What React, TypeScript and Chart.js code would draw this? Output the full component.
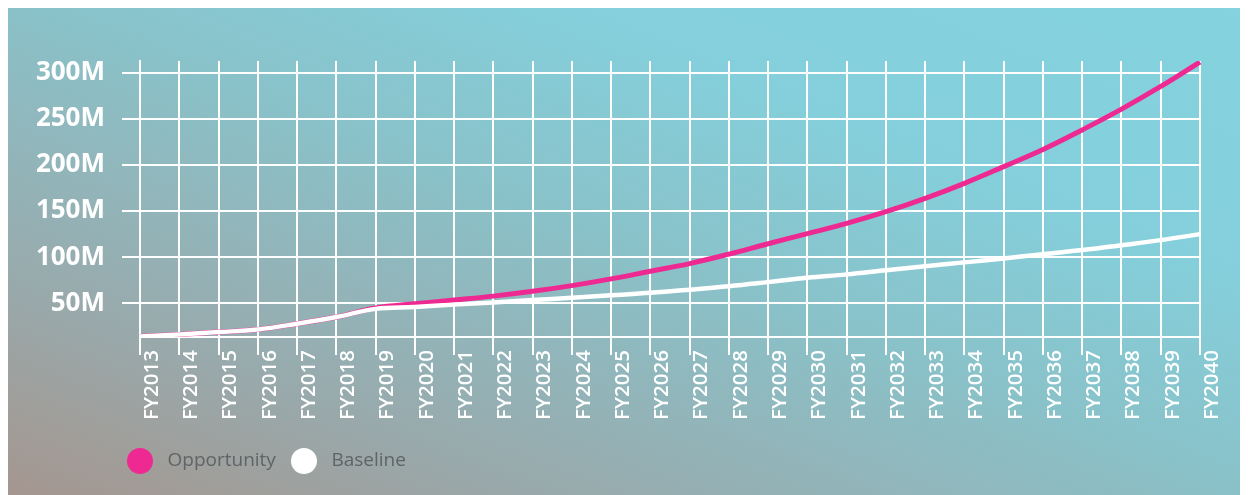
import React, { useEffect, useRef } from "react";
import { Chart, registerables } from "chart.js";

Chart.register(...registerables);

const YEARS: string[] = [
  "FY2013", "FY2014", "FY2015", "FY2016", "FY2017", "FY2018", "FY2019",
  "FY2020", "FY2021", "FY2022", "FY2023", "FY2024", "FY2025", "FY2026",
  "FY2027", "FY2028", "FY2029", "FY2030", "FY2031", "FY2032", "FY2033",
  "FY2034", "FY2035", "FY2036", "FY2037", "FY2038", "FY2039", "FY2040",
];

// values in millions
const OPPORTUNITY: number[] = [
  14.1, 16.3, 18.8, 21.7, 27.9, 35.1, 45.0, 49.5, 53.6, 57.8, 63.0, 69.2,
  76.5, 84.8, 93.1, 103.3, 114.6, 125.5, 136.6, 149.3, 163.8, 180.1, 198.2,
  216.8, 238.0, 260.5, 285.1, 311.6,
];

const BASELINE: number[] = [
  14.1, 16.3, 18.8, 21.7, 27.9, 35.1, 44.0, 46.0, 48.6, 50.8, 53.6, 56.0,
  58.7, 61.4, 64.8, 68.5, 73.0, 77.7, 81.4, 85.9, 90.2, 94.4, 98.6, 103.3,
  107.8, 113.0, 118.5, 125.0,
];

const Y_TICKS: number[] = [50, 100, 150, 200, 250, 300];
const Y_MIN = 13.5;
const Y_MAX = 312.7;

const PINK = "#ee2a92";
const WHITE = "#ffffff";

function makeDot(color: string, diameter: number, width: number): HTMLCanvasElement {
  const c = document.createElement("canvas");
  c.width = width;
  c.height = diameter;
  const ctx = c.getContext("2d")!;
  ctx.fillStyle = color;
  ctx.beginPath();
  ctx.arc(width / 2, diameter / 2, diameter / 2, 0, Math.PI * 2);
  ctx.fill();
  return c;
}

const legendShift = {
  id: "legendShift",
  afterLayout(chart: any) {
    if (chart.legend) {
      chart.legend.left = 104;
    }
  },
};

export default function App() {
  const ref = useRef<HTMLCanvasElement | null>(null);

  useEffect(() => {
    if (!ref.current) return;
    Chart.defaults.font.family = "'Open Sans', sans-serif";
    const dots = [makeDot(PINK, 26, 26), makeDot(WHITE, 26, 26)];
    const chart = new Chart(ref.current, {
      type: "line",
      data: {
        labels: YEARS,
        datasets: [
          {
            label: "Opportunity",
            data: OPPORTUNITY,
            borderColor: PINK,
            backgroundColor: PINK,
            borderWidth: 5,
            pointRadius: 0,
            tension: 0.4,
            order: 1,
          },
          {
            label: "Baseline",
            data: BASELINE,
            borderColor: WHITE,
            backgroundColor: WHITE,
            borderWidth: 4.5,
            pointRadius: 0,
            tension: 0.4,
            order: 0,
          },
        ],
      },
      plugins: [legendShift],
      options: {
        animation: false,
        responsive: false,
        maintainAspectRatio: false,
        layout: { padding: { left: 0, right: 48, top: 53, bottom: 14.5 } },
        plugins: {
          tooltip: { enabled: false },
          legend: {
            position: "bottom",
            align: "start",
            labels: {
              usePointStyle: true,
              pointStyleWidth: 36,
              padding: 10,
              color: "#5f6467",
              font: { size: 19, family: "'Open Sans', sans-serif" },
              generateLabels: (ch: any) =>
                ch.data.datasets.map((ds: any, i: number) => ({
                  text: ds.label,
                  datasetIndex: i,
                  fillStyle: ds.borderColor,
                  strokeStyle: ds.borderColor,
                  lineWidth: 0,
                  pointStyle: dots[i],
                  hidden: false,
                  fontColor: "#5f6467",
                })),
            },
          },
        },
        scales: {
          x: {
            type: "category",
            offset: false,
            afterFit: (s: any) => {
              s.height = 104.5;
            },
            grid: {
              color: WHITE,
              lineWidth: 2,
              drawTicks: true,
              tickLength: 18,
            },
            border: { display: true, color: WHITE, width: 2 },
            ticks: {
              autoSkip: false,
              maxRotation: 90,
              minRotation: 90,
              labelOffset: 12,
              padding: -5,
              color: WHITE,
              font: { size: 20.5, weight: 600 },
            },
          },
          y: {
            type: "linear",
            min: Y_MIN,
            max: Y_MAX,
            afterFit: (s: any) => {
              s.width = 132;
            },
            afterBuildTicks: (s: any) => {
              s.ticks = Y_TICKS.map((v) => ({ value: v }));
            },
            grid: {
              color: WHITE,
              lineWidth: 2,
              drawTicks: true,
              tickLength: 18,
            },
            border: { display: true, color: WHITE, width: 2 },
            ticks: {
              padding: 17,
              color: WHITE,
              font: { size: 26, weight: "bold" },
              callback: (v: any) => `${v}M`,
            },
          },
        },
      },
    });
    return () => chart.destroy();
  }, []);

  return (
    <div
      style={{
        width: 1240,
        height: 487,
        background:
          "linear-gradient(to top right, #a5968f 0%, #97acaf 25%, #8ac1c8 50%, #84cfdb 72%, #84d3df 100%)",
      }}
    >
      <canvas ref={ref} width={1240} height={487} style={{ display: "block" }} />
    </div>
  );
}
